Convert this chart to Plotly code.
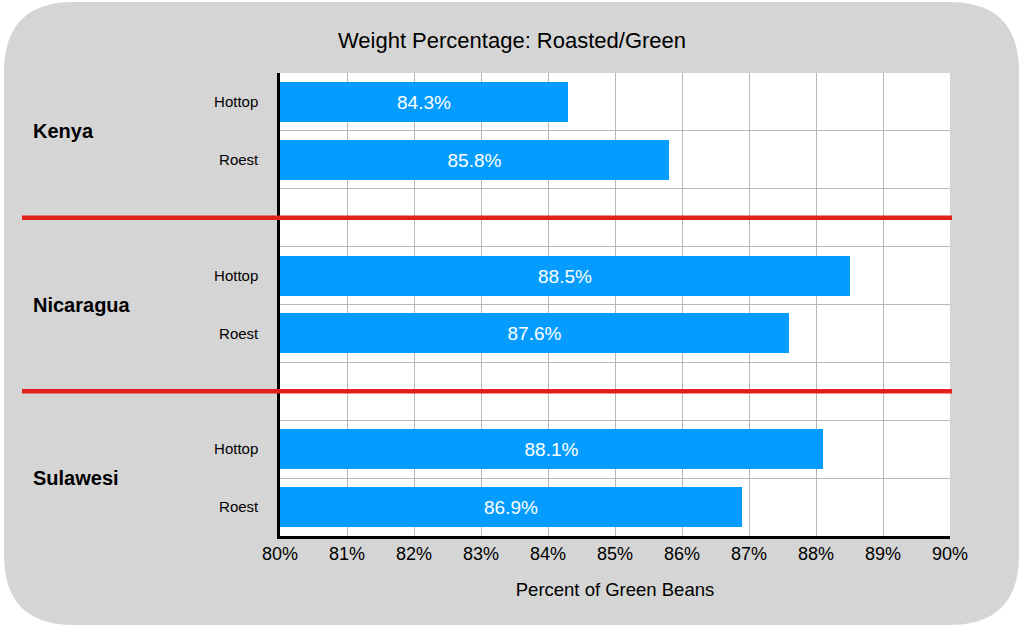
import plotly.graph_objects as go

# ---- data ----
countries = ["Kenya", "Nicaragua", "Sulawesi"]
methods = ["Hottop", "Roest"]
hottop_vals = [84.3, 88.5, 88.1]
roest_vals = [85.8, 87.6, 86.9]
x_ticks = [80, 81, 82, 83, 84, 85, 86, 87, 88, 89, 90]
x_tick_labels = [f"{t}%" for t in x_ticks]
title_text = "Weight Percentage: Roasted/Green"
x_title = "Percent of Green Beans"

BASE = 80
W, H = 1024, 628
L, R, T, B = 280, 74, 73, 92
PW, PH = W - L - R, H - T - B
FONT = "Liberation Sans"
BLUE = "#049DFF"
GRID = "#b8b8b8"

# slot positions: each country takes 3 slots (Hottop, Roest, gap)
ys, vals, labels = [], [], []
for i, c in enumerate(countries):
    for j, series in enumerate([hottop_vals, roest_vals]):
        ys.append(3 * i + j + 0.5)
        vals.append(series[i])
        labels.append(methods[j])

fig = go.Figure()
fig.add_trace(go.Bar(
    orientation="h",
    y=ys,
    x=[v - BASE for v in vals],
    base=BASE,
    width=0.69,
    marker=dict(color=BLUE, line=dict(width=0)),
    text=[f"{v:.1f}%" for v in vals],
    textposition="inside",
    insidetextanchor="middle",
    textangle=0,
    textfont=dict(color="white", size=19, family=FONT),
    hovertemplate="%{text}<extra></extra>",
    showlegend=False,
))


def px(x):
    return (x - L) / PW


def py(y):
    return (H - B - y) / PH


# rounded grey background (pixel geometry -> paper coordinates)
x0, x1, y0, y1, r = 4, 1019, 2, 625, 70
path = (
    f"M {px(x0 + r)} {py(y0)} L {px(x1 - r)} {py(y0)} "
    f"Q {px(x1)} {py(y0)} {px(x1)} {py(y0 + r)} "
    f"L {px(x1)} {py(y1 - r)} Q {px(x1)} {py(y1)} {px(x1 - r)} {py(y1)} "
    f"L {px(x0 + r)} {py(y1)} Q {px(x0)} {py(y1)} {px(x0)} {py(y1 - r)} "
    f"L {px(x0)} {py(y0 + r)} Q {px(x0)} {py(y0)} {px(x0 + r)} {py(y0)} Z"
)
shapes = [
    dict(type="path", xref="paper", yref="paper", path=path,
         fillcolor="#d5d5d5", line=dict(width=0), layer="below"),
    dict(type="rect", xref="paper", yref="paper", x0=0, x1=1, y0=0, y1=1,
         fillcolor="white", line=dict(width=0), layer="below"),
]
# red separators between countries
for i in range(len(countries) - 1):
    yv = 3 * i + 2.5
    shapes.append(dict(type="line", xref="paper", yref="y",
                       x0=px(22), x1=px(952), y0=yv, y1=yv,
                       line=dict(color="#e3211b", width=4.5), layer="above"))

annotations = []
for i, c in enumerate(countries):
    annotations.append(dict(
        text=f"<b>{c}</b>", xref="paper", yref="y", x=px(31), y=3 * i + 1,
        xanchor="left", yanchor="middle", showarrow=False,
        font=dict(size=20, color="black", family=FONT)))

fig.update_layout(
    width=W, height=H,
    margin=dict(l=L, r=R, t=T, b=B, pad=0),
    paper_bgcolor="white",
    plot_bgcolor="white",
    font=dict(family=FONT, color="black"),
    title=dict(text=title_text, x=px(615), xanchor="center",
               y=1 - 40 / H, yanchor="middle",
               font=dict(size=22, color="black", family=FONT)),
    shapes=shapes,
    annotations=annotations,
    bargap=0,
)
fig.update_xaxes(
    range=[x_ticks[0], x_ticks[-1]],
    tickvals=x_ticks, ticktext=x_tick_labels,
    tickfont=dict(size=18, color="black", family=FONT),
    showgrid=True, gridcolor=GRID, gridwidth=1,
    showline=True, linecolor="black", linewidth=2.5,
    zeroline=False, ticks="",
    title=dict(text=x_title, font=dict(size=18.5, color="black", family=FONT),
               standoff=20),
)
fig.update_yaxes(
    range=[8, 0],
    tickvals=ys, ticktext=labels,
    tickfont=dict(size=15, color="black", family=FONT),
    ticks="", ticklabelstandoff=16,
    showgrid=False,
    minor=dict(tickvals=[1, 2, 3, 4, 5, 6, 7], showgrid=True,
               gridcolor=GRID, gridwidth=1, ticks=""),
    showline=True, linecolor="black", linewidth=2.5,
    zeroline=False,
)

fig.write_html(
    "out.html",
    config={"displayModeBar": False},
    post_script="document.body.style.margin='0';document.body.style.overflow='hidden';",
)
